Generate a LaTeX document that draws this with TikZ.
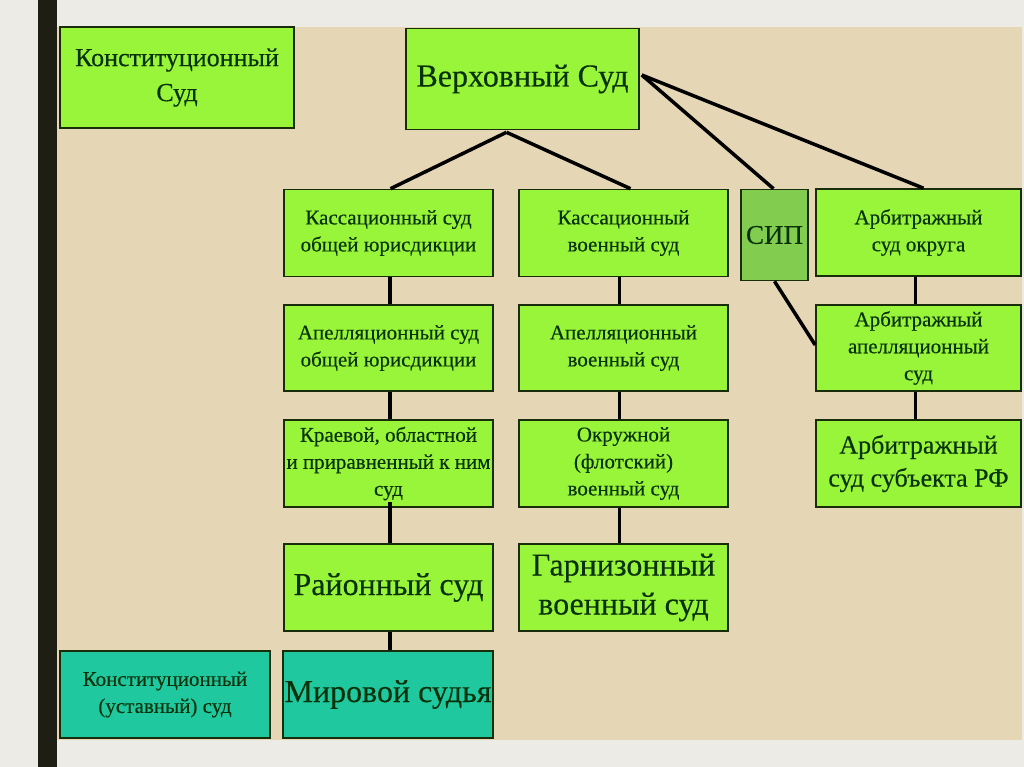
\documentclass[tikz,border=0pt]{standalone}
\usepackage{fontspec}
\setmainfont{Liberation Serif}[FakeBold=0.3]
\usetikzlibrary{calc}
\definecolor{pagegrey}{RGB}{237,235,230}
\definecolor{barcol}{RGB}{30,30,20}
\definecolor{beige}{RGB}{229,214,182}
\definecolor{boxgreen}{RGB}{152,245,58}
\definecolor{sipgreen}{RGB}{130,205,80}
\definecolor{tealbox}{RGB}{32,200,160}
\definecolor{txtgreen}{RGB}{10,50,10}
\definecolor{edgecol}{RGB}{25,45,10}
\tikzset{
  court/.style={draw=edgecol, line width=1.6pt, fill=boxgreen, inner sep=0pt,
     align=center, text=txtgreen, anchor=center},
  small/.style={font=\fontsize{21}{27}\selectfont},
  mid/.style={font=\fontsize{26}{33}\selectfont},
  big/.style={font=\fontsize{32}{39}\selectfont},
  link/.style={draw=black, line width=3.5pt}
}
\begin{document}
\begin{tikzpicture}[x=1pt,y=-1pt]
\useasboundingbox (0,0) rectangle (1024,767);
\fill[pagegrey] (0,0) rectangle (1024,767);
\fill[beige] (57,27) rectangle (1022,740);
\fill[barcol] (38,0) rectangle (57,767);

\node[court, font=\fontsize{26}{35}\selectfont, minimum width=234pt, minimum height=101pt] (ks) at (177,77.5)
  {Конституционный\\Суд};
\node[court, font=\fontsize{32}{36}\selectfont, minimum width=233pt, minimum height=101pt] (vs) at (522.5,79)
  {Верховный Суд};

\node[court, small, minimum width=209pt, minimum height=87pt] (k1) at (388.5,233)
  {Кассационный суд\\общей юрисдикции};
\node[court, small, minimum width=209pt, minimum height=87pt] (k2) at (623.5,233)
  {Кассационный\\военный суд};
\node[court, fill=sipgreen, font=\fontsize{27}{30}\selectfont, minimum width=67pt, minimum height=91pt] (sip) at (774.5,235)
  {СИП};
\node[court, small, minimum width=205pt, minimum height=87pt] (a1) at (918.5,232.5)
  {Арбитражный\\суд округа};

\node[court, small, minimum width=209pt, minimum height=86pt] (p1) at (388.5,348)
  {Апелляционный суд\\общей юрисдикции};
\node[court, small, minimum width=209pt, minimum height=86pt] (p2) at (623.5,348)
  {Апелляционный\\военный суд};
\node[court, small, minimum width=205pt, minimum height=86pt] (a2) at (918.5,348)
  {Арбитражный\\апелляционный\\суд};

\node[court, small, minimum width=209pt, minimum height=87pt] (r1) at (388.5,463.5)
  {Краевой, областной\\и приравненный к ним\\суд};
\node[court, small, minimum width=209pt, minimum height=87pt] (r2) at (623.5,463.5)
  {Окружной\\(флотский)\\военный суд};
\node[court, mid, minimum width=205pt, minimum height=87pt] (a3) at (918.5,463.5)
  {Арбитражный\\суд субъекта РФ};

\node[court, big, minimum width=209pt, minimum height=87pt] (d1) at (388.5,587.5)
  {Районный суд};
\node[court, big, minimum width=209pt, minimum height=87pt] (d2) at (623.5,587.5)
  {Гарнизонный\\военный суд};

\node[court, small, fill=tealbox, minimum width=210pt, minimum height=87pt] (cu) at (165,694.5)
  {Конституционный\\(уставный) суд};
\node[court, fill=tealbox, font=\fontsize{32}{36}\selectfont, minimum width=210pt, minimum height=87pt] (mir) at (388,694.5)
  {Мировой судья};

% connectors
\coordinate (apex) at ($(vs.south)+(-16,2)$);
\draw[link] (apex) -- ($(k1.north)+(2,0)$);
\draw[link] (apex) -- ($(k2.north)+(7,0)$);
\coordinate (vsr) at ($(vs.east)+(2,-4)$);
\draw[link] (vsr) -- ($(sip.north)+(-1,0)$);
\draw[link] (vsr) -- ($(a1.north)+(5,0)$);
\draw[link] (sip.south) -- ($(a2.west)+(0,-3)$);

\draw[link] ($(k1.south)+(1.5,0)$) -- ($(p1.north)+(1.5,0)$);
\draw[link] ($(p1.south)+(1.5,0)$) -- ($(r1.north)+(1.5,0)$);
\draw[link] ($(r1.south)+(1.5,-6)$) -- ($(d1.north)+(1.5,0)$);
\draw[link] ($(d1.south)+(1.5,0)$) -- ($(mir.north)+(2,0)$);

\draw[link] ($(k2.south)+(-4,0)$) -- ($(p2.north)+(-4,0)$);
\draw[link] ($(p2.south)+(-4,0)$) -- ($(r2.north)+(-4,0)$);
\draw[link] ($(r2.south)+(-4,0)$) -- ($(d2.north)+(-4,0)$);

\draw[link] ($(a1.south)+(-3,0)$) -- ($(a2.north)+(-3,0)$);
\draw[link] ($(a2.south)+(-3,0)$) -- ($(a3.north)+(-3,0)$);
\end{tikzpicture}
\end{document}
